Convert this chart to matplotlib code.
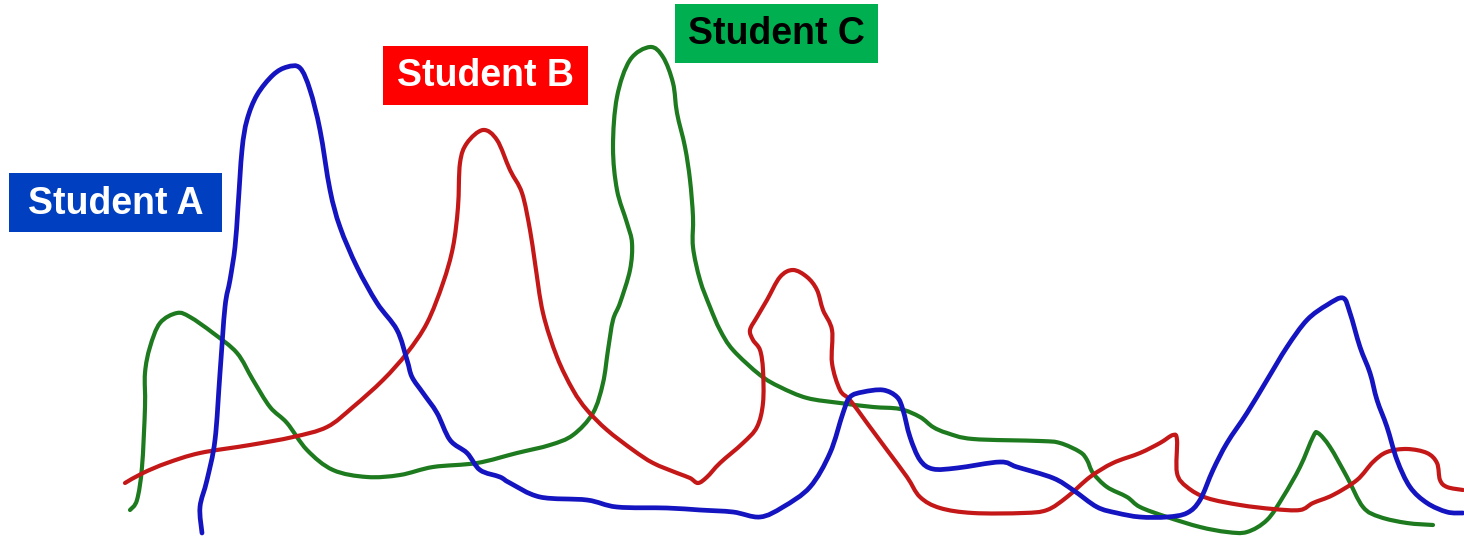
import matplotlib
matplotlib.use('Agg')
import numpy as np
from matplotlib import pyplot as plt
from matplotlib.patches import Rectangle, PathPatch
from matplotlib.path import Path

# hand-drawn curves (x to the right, y downwards)
a_x = [202, 200, 207, 215, 220, 225, 230, 235, 238, 242, 247, 257, 273, 287, 300, 310, 320, 330, 340, 357,
       377, 397, 407, 412, 423, 437, 450, 467, 480, 500, 510, 540, 587, 617, 667, 700, 733, 760, 783, 810,
       830, 843, 850, 863, 883, 897, 903, 910, 920, 933, 957, 1000, 1017, 1053, 1073, 1097, 1117, 1140, 1167, 1187,
       1200, 1213, 1227, 1247, 1267, 1287, 1307, 1327, 1343, 1350, 1360, 1370, 1377, 1387, 1397, 1410, 1427, 1447, 1463]
a_y = [533, 507, 480, 440, 373, 307, 280, 247, 207, 150, 120, 95, 75, 67, 68, 90, 130, 190, 227, 267,
       303, 330, 360, 377, 393, 413, 440, 453, 470, 477, 483, 497, 500, 507, 508, 510, 512, 517, 507, 487,
       453, 413, 397, 392, 390, 397, 410, 437, 460, 469, 468, 462, 467, 478, 490, 507, 513, 517, 517, 513,
       500, 470, 443, 413, 380, 347, 320, 305, 298, 313, 347, 373, 400, 427, 460, 487, 503, 512, 513]

b_x = [125, 143, 167, 200, 250, 293, 327, 353, 383, 407, 427, 443, 453, 458, 460, 467, 483, 497, 510, 522,
       530, 535, 543, 557, 573, 587, 607, 633, 653, 677, 690, 698, 707, 720, 743, 757, 763, 763, 760, 753,
       750, 757, 767, 780, 793, 807, 817, 823, 832, 832, 840, 850, 867, 887, 907, 920, 940, 973, 1023, 1047,
       1067, 1090, 1113, 1140, 1160, 1173, 1177, 1177, 1187, 1207, 1240, 1273, 1300, 1313, 1333, 1357, 1373, 1387, 1407, 1427,
       1437, 1440, 1447, 1463]
b_y = [483, 473, 463, 453, 445, 437, 427, 407, 380, 353, 323, 283, 247, 207, 163, 143, 130, 140, 170, 193,
       230, 263, 313, 357, 390, 410, 430, 450, 463, 473, 478, 483, 477, 463, 443, 427, 403, 370, 350, 340,
       330, 317, 300, 277, 270, 277, 290, 310, 330, 363, 390, 400, 423, 450, 477, 497, 508, 513, 513, 510,
       497, 477, 463, 453, 443, 435, 440, 473, 487, 498, 505, 509, 510, 503, 495, 480, 462, 452, 449, 453,
       463, 480, 487, 490]

c_x = [130, 137, 142, 145, 145, 150, 160, 177, 190, 213, 237, 253, 270, 287, 307, 333, 367, 400, 433, 477,
       517, 550, 573, 593, 603, 608, 613, 620, 630, 632, 627, 617, 613, 617, 630, 650, 663, 673, 677, 685,
       690, 693, 693, 700, 710, 720, 733, 760, 780, 807, 840, 873, 900, 920, 933, 947, 973, 1040, 1060, 1080,
       1087, 1093, 1107, 1127, 1140, 1167, 1200, 1227, 1247, 1267, 1283, 1300, 1313, 1318, 1330, 1347, 1363, 1380, 1407, 1433]
c_y = [510, 500, 467, 407, 373, 347, 323, 313, 317, 333, 353, 380, 407, 423, 450, 470, 477, 475, 467, 463,
       453, 445, 435, 413, 383, 350, 320, 303, 270, 243, 223, 190, 147, 97, 60, 47, 57, 83, 113, 147,
       180, 217, 247, 280, 307, 330, 350, 375, 387, 398, 403, 407, 409, 417, 427, 433, 439, 441, 443, 452,
       460, 473, 487, 497, 507, 517, 527, 532, 532, 520, 497, 467, 437, 433, 447, 477, 507, 517, 523, 525]

labels = ['Student A', 'Student B', 'Student C']


def smooth_path(xs, ys):
    # catmull-rom through the traced points, as cubic bezier segments
    p = np.column_stack([xs, ys]).astype(float)
    p = np.vstack([p[0], p, p[-1]])
    verts = [p[1]]
    codes = [Path.MOVETO]
    for i in range(1, len(p) - 2):
        c1 = p[i] + (p[i + 1] - p[i - 1]) / 6
        c2 = p[i + 1] - (p[i + 2] - p[i]) / 6
        verts += [c1, c2, p[i + 1]]
        codes += [Path.CURVE4] * 3
    return Path(verts, codes)


def main():
    fig = plt.figure(figsize=(14.64, 5.38), dpi=100)
    ax = fig.add_axes([0, 0, 1, 1])
    ax.set_xlim(0, 1464)
    ax.set_ylim(538, 0)
    ax.axis('off')

    for xs, ys, col, lw in [(c_x, c_y, '#1e7a1e', 3.0),
                            (b_x, b_y, '#c41818', 3.0),
                            (a_x, a_y, '#1414c0', 3.4)]:
        ax.add_patch(PathPatch(smooth_path(xs, ys), facecolor='none', edgecolor=col, lw=lw,
                               capstyle='round', joinstyle='round'))

    # label boxes: (left, top, width, height), box colour, text colour
    boxes = [((9, 173, 213, 59), '#0040c0', 'white'),
             ((383, 46, 205, 59), '#ff0000', 'white'),
             ((675, 4, 203, 59), '#00b050', 'black')]
    for lab, ((x0, y0, w, h), bc, tc) in zip(labels, boxes):
        ax.add_patch(Rectangle((x0, y0), w, h, facecolor=bc, edgecolor='none', zorder=3))
        ax.text(x0 + w / 2, y0 + h / 2 + 1, lab, color=tc, fontsize=27, fontweight='bold',
                family='Liberation Sans', ha='center', va='center', zorder=4)

    fig.savefig('out.png', dpi=100)


if __name__ == '__main__':
    main()
